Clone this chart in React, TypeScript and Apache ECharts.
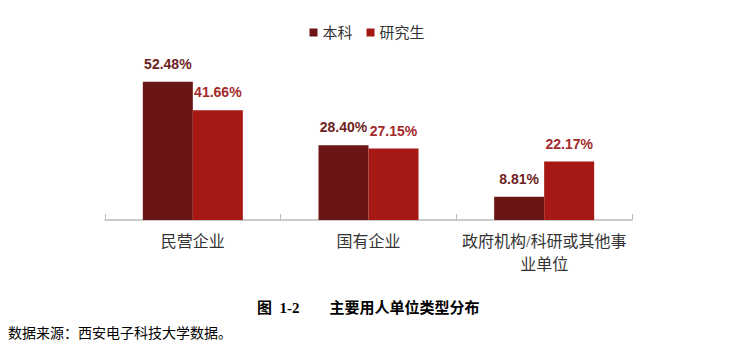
import React, { useEffect, useRef } from "react";
import * as echarts from "echarts";

const categories = ["民营企业", "国有企业", "政府机构/科研或其他事\n业单位"];
const seriesNames = ["本科", "研究生"];
const undergrad = [52.48, 28.4, 8.81];
const graduate = [41.66, 27.15, 22.17];
const caption = "图  1-2        主要用人单位类型分布";
const source = "数据来源：西安电子科技大学数据。";

const serif = '"Liberation Serif", "Noto Sans CJK SC", serif';

export default function App() {
  const ref = useRef<HTMLDivElement>(null);
  useEffect(() => {
    if (!ref.current) return;
    const chart = echarts.init(ref.current, undefined, { renderer: "svg" });
    chart.setOption({
      animation: false,
      legend: {
        data: seriesNames,
        top: 20,
        left: "center",
        itemWidth: 8,
        itemHeight: 8,
        itemGap: 14,
        icon: "rect",
        textStyle: { fontFamily: serif, fontSize: 15, color: "#333" },
      },
      grid: { left: 105, right: 102, top: 62, bottom: 140 },
      xAxis: {
        type: "category",
        data: categories,
        axisLine: { lineStyle: { color: "#bbbbbb", width: 1.5 } },
        axisTick: { show: true, inside: true, length: 6, lineStyle: { color: "#bbbbbb" } },
        axisLabel: {
          fontFamily: serif,
          fontSize: 16,
          color: "#333",
          margin: 10,
          lineHeight: 23,
          interval: 0,
        },
      },
      yAxis: { type: "value", min: 0, max: 60, show: false, splitLine: { show: false } },
      series: [
        {
          name: seriesNames[0],
          type: "bar",
          data: undergrad,
          barWidth: 50,
          barGap: "0%",
          itemStyle: { color: "#6B1616" },
          label: {
            show: true,
            position: "top",
            distance: 11,
            formatter: (p: any) => p.value.toFixed(2) + "%",
            color: "#6E1F1F",
            fontFamily: '"Liberation Sans", Arial, sans-serif',
            fontSize: 14,
            fontWeight: "bold",
          },
        },
        {
          name: seriesNames[1],
          type: "bar",
          data: graduate,
          barWidth: 50,
          barGap: "0%",
          itemStyle: { color: "#A51813" },
          label: {
            show: true,
            position: "top",
            distance: 11,
            formatter: (p: any) => p.value.toFixed(2) + "%",
            color: "#A32A2A",
            fontFamily: '"Liberation Sans", Arial, sans-serif',
            fontSize: 14,
            fontWeight: "bold",
          },
        },
      ],
      graphic: [
        {
          type: "text",
          left: 257,
          top: 300,
          style: {
            text: caption,
            fontFamily: serif,
            fontSize: 15,
            fontWeight: "bold",
            fill: "#000",
          },
        },
        {
          type: "text",
          left: 8,
          top: 326,
          style: {
            text: source,
            fontFamily: serif,
            fontSize: 14,
            fill: "#000",
          },
        },
      ],
    });
    return () => chart.dispose();
  }, []);
  return (
    <div
      ref={ref}
      style={{ position: "absolute", left: 0, top: 0, width: 734, height: 360 }}
    />
  );
}
